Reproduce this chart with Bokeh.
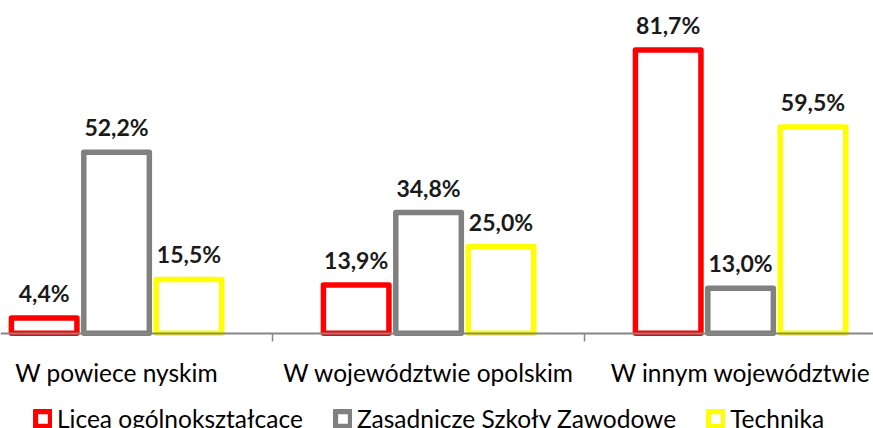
from bokeh.plotting import figure
from bokeh.core.properties import value
from bokeh.models import (Range1d, LinearAxis, FixedTicker, ColumnDataSource,
                          LabelSet, Legend, LegendItem)
from bokeh.embed import file_html
from bokeh.resources import INLINE

categories = ["W powiece nyskim", "W województwie opolskim", "W innym województwie"]
series = ["Licea ogólnokształcące", "Zasadnicze Szkoły Zawodowe", "Technika"]
licea = [4.4, 13.9, 81.7]
zasadnicze = [52.2, 34.8, 13.0]
technika = [15.5, 25.0, 59.5]
colors = ["#FF0000", "#808080", "#FFFF00"]

values = [licea, zasadnicze, technika]
group_centers = [i + 0.5 for i in range(len(categories))]
offsets = [-0.232, 0.0, 0.232]

p = figure(frame_height=428, frame_width=873,
           output_backend="svg", toolbar_location=None,
           x_range=Range1d(0.128, 2.926), y_range=Range1d(-27.5, 96.0),
           min_border_left=0, min_border_right=0, min_border_top=0, min_border_bottom=0,
           x_axis_type=None, y_axis_type=None, outline_line_color=None)
p.grid.visible = False

axis = LinearAxis(
    fixed_location=0,
    ticker=FixedTicker(ticks=group_centers, minor_ticks=[1, 2]),
    major_label_overrides={c: name for c, name in zip(group_centers, categories)},
    major_tick_out=0, major_tick_in=0, minor_tick_out=8, minor_tick_in=0,
    axis_line_color="#868686", axis_line_width=2,
    minor_tick_line_color="#868686", minor_tick_line_width=1.5,
    major_label_text_font="Lato", major_label_text_font_size="24.5px",
    major_label_text_color="#000000", major_label_standoff=17,
)
p.add_layout(axis, "below")

items = []
for name, vals, col, off in zip(series, values, colors, offsets):
    src = ColumnDataSource(dict(
        x=[c + off for c in group_centers],
        top=vals,
        label=[f"{v:.1f}".replace(".", ",") + "%" for v in vals],
    ))
    r = p.vbar(x="x", top="top", bottom=0, width=0.21, source=src,
               fill_color="white", line_color=col, line_width=5.5, line_join="round")
    p.add_layout(LabelSet(x="x", y="top", text="label", source=src,
                          text_align="center", text_baseline="alphabetic",
                          y_offset=16, text_font=value("Lato"),
                          text_font_style="bold",
                          text_font_size="23px", text_color="#1a1a1a"))
    items.append(LegendItem(label=name, renderers=[r]))

legend = Legend(items=items, orientation="horizontal", location=(33, -5),
                glyph_width=19, glyph_height=19, label_text_font="Lato",
                label_text_font_size="24.5px", label_text_color="#000000",
                spacing=30, padding=0, margin=0,
                label_standoff=5, border_line_color=None, background_fill_alpha=0)
p.add_layout(legend)

open("out.html", "w").write(file_html(p, INLINE))
